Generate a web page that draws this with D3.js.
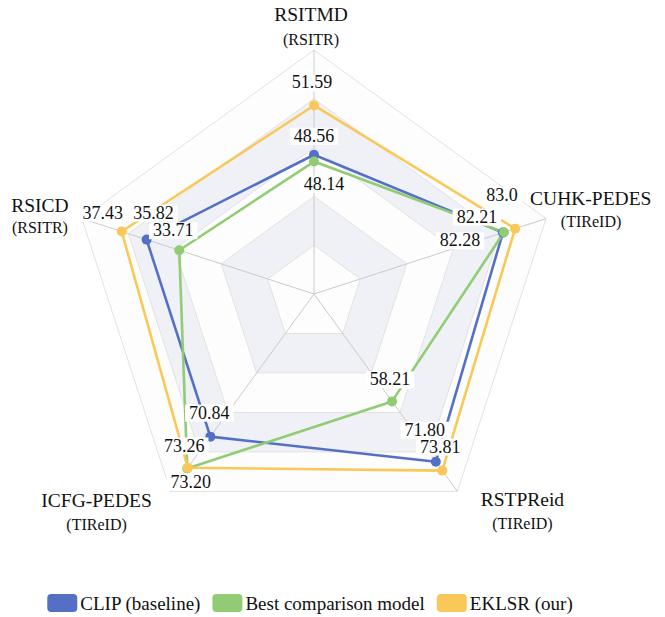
<!DOCTYPE html>
<html>
<head>
<meta charset="utf-8">
<script src="https://cdn.jsdelivr.net/npm/d3@7/dist/d3.min.js"></script>
<style>
  html, body { margin: 0; padding: 0; background: #fff; }
  svg { display: block; }
</style>
</head>
<body>
<svg id="chart" width="665" height="617"></svg>
<script>
// Radar axes, clockwise from the top
const indicators = ["RSITMD", "CUHK-PEDES", "RSTPReid", "ICFG-PEDES", "RSICD"];
const indicatorTasks = ["(RSITR)", "(TIReID)", "(TIReID)", "(TIReID)", "(RSITR)"];
const axisMin = [40, 70, 34, 60, 25];
const axisMax = [55, 85, 78.5, 75, 40];

// Scores per method (same order as the axes)
const seriesNames = ["CLIP (baseline)", "Best comparison model", "EKLSR (our)"];
const clipScores  = ["48.56", "82.21", "71.80", "70.84", "35.82"];
const bestScores  = ["48.14", "82.28", "58.21", "73.26", "33.71"];
const eklsrScores = ["51.59", "83.0",  "73.81", "73.20", "37.43"];
const seriesColors = ["#5470c6", "#91cc75", "#fac858"];

const cx = 314, cy = 294, radius = 244;
const splitNumber = 5;
const fontFamily = '"Liberation Serif"';

const svg = d3.select("#chart");

const angle = d3.scaleLinear().domain([0, indicators.length]).range([-Math.PI / 2, 1.5 * Math.PI]);
const rScales = indicators.map((_, i) =>
  d3.scaleLinear().domain([axisMin[i], axisMax[i]]).range([0, radius]));

function pointAt(i, r) {
  const a = angle(i);
  return [cx + r * Math.cos(a), cy + r * Math.sin(a)];
}
function ringPath(r) {
  return d3.range(indicators.length).map(i => pointAt(i, r));
}
function addText(parent, x, y, str, size, anchor) {
  return parent.append("text").attr("x", x).attr("y", y)
    .style("font-family", fontFamily).style("font-size", size + "px")
    .attr("fill", "#111").attr("text-anchor", anchor).text(str);
}

// Alternating split areas
const g = svg.append("g");
const bandFill = ["rgba(250,250,250,0.3)", "#eff1f6"];
for (let k = 0; k < splitNumber; k++) {
  const outer = ringPath(radius * (k + 1) / splitNumber);
  const inner = ringPath(radius * k / splitNumber);
  const d = "M" + outer.join("L") + "Z" + (k > 0 ? "M" + inner.slice().reverse().join("L") + "Z" : "");
  g.append("path").attr("d", d).attr("fill", bandFill[k % 2]).attr("fill-rule", "evenodd");
}
// Split lines
for (let k = 1; k <= splitNumber; k++) {
  g.append("path")
    .attr("d", "M" + ringPath(radius * k / splitNumber).join("L") + "Z")
    .attr("fill", "none").attr("stroke", "#e2e2e2").attr("stroke-width", 1);
}
// Axis lines
indicators.forEach((_, i) => {
  const p = pointAt(i, radius);
  g.append("line").attr("x1", cx).attr("y1", cy).attr("x2", p[0]).attr("y2", p[1])
    .attr("stroke", "#cacaca").attr("stroke-width", 1);
});

// Axis names
const nameLayout = [
  { dx: -3,  dy: -29, sdx: -3,  sdy: -5.5, anchor: "middle" },
  { dx: -16, dy: -14, sdx: 45,  sdy: 8.5,  anchor: "start", subAnchor: "middle" },
  { dx: 65,  dy: 15,  sdx: 65,  sdy: 38,   anchor: "middle" },
  { dx: -74, dy: 16,  sdx: -74, sdy: 39,   anchor: "middle" },
  { dx: -42, dy: -7,  sdx: -42, sdy: 14,   anchor: "middle" }
];
indicators.forEach((name, i) => {
  const p = pointAt(i, radius);
  const L = nameLayout[i];
  addText(svg, p[0] + L.dx, p[1] + L.dy, name, 19.5, L.anchor);
  addText(svg, p[0] + L.sdx, p[1] + L.sdy, indicatorTasks[i], 16, L.subAnchor || L.anchor);
});

// Series lines and points
const allScores = [clipScores, bestScores, eklsrScores];
const line = d3.line();
const seriesPoints = allScores.map(scores =>
  scores.map((v, i) => pointAt(i, rScales[i](+v))));

seriesPoints.forEach((pts, s) => {
  svg.append("path").attr("d", line(pts) + "Z")
    .attr("fill", "none").attr("stroke", seriesColors[s])
    .attr("stroke-width", 2.6).attr("stroke-linejoin", "round");
});
seriesPoints.forEach((pts, s) => {
  svg.append("g").selectAll("circle").data(pts).join("circle")
    .attr("cx", d => d[0]).attr("cy", d => d[1]).attr("r", 5)
    .attr("fill", seriesColors[s]);
});

// Value labels (offsets of the label centre/baseline from each point)
const labelOffsets = [
  [[0, -13], [-26, -10], [-11, -26], [-1, -18], [7, -21]],
  [[10, 28], [-44, 14], [-2, -16], [-3, -17], [-6, -14]],
  [[-2, -17], [-13, -28], [-2, -18], [3, 20], [-19, -13]]
];
const labelLayer = svg.append("g");
allScores.forEach((scores, s) => {
  scores.forEach((v, i) => {
    const p = seriesPoints[s][i];
    const [dx, dy] = labelOffsets[s][i];
    const lg = labelLayer.append("g");
    const t = addText(lg, p[0] + dx, p[1] + dy, v, 18, "middle");
    const bb = t.node().getBBox();
    lg.insert("rect", "text")
      .attr("x", bb.x - 4).attr("y", bb.y + 2).attr("width", bb.width + 8).attr("height", bb.height - 3)
      .attr("fill", "#fff");
  });
});

// Legend
const legend = svg.append("g");
const items = seriesNames.map((name, s) => {
  const ig = legend.append("g");
  ig.append("rect").attr("width", 30).attr("height", 18).attr("rx", 4)
    .attr("y", -9).attr("fill", seriesColors[s]);
  const t = addText(ig, 33, 6.5, name, 19, "start");
  return { g: ig, w: 33 + t.node().getComputedTextLength() };
});
const gap = 12;
const total = d3.sum(items, d => d.w) + gap * (items.length - 1);
let x0 = 310 - total / 2;
items.forEach(it => { it.g.attr("transform", `translate(${x0},603)`); x0 += it.w + gap; });
</script>
</body>
</html>
